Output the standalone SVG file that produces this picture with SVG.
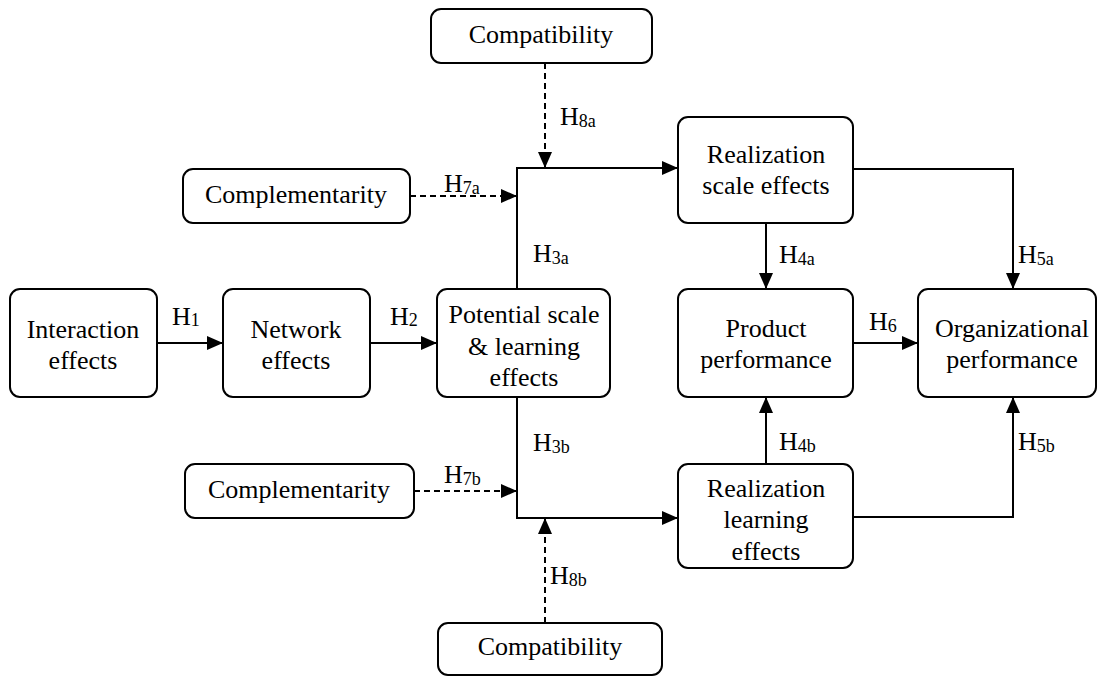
<svg xmlns="http://www.w3.org/2000/svg" width="1099" height="677" viewBox="0 0 1099 677">
<style>
.box{fill:#fff;stroke:#000;stroke-width:2}
.t{font-size:26px;fill:#000;text-anchor:middle}
.lb{font-size:26px;fill:#000}
.sb{font-size:18px}
.c{fill:none;stroke:#000;stroke-width:2}
.d{fill:none;stroke:#000;stroke-width:2;stroke-dasharray:6,4}
</style>
<defs>
<marker id="ah" markerUnits="userSpaceOnUse" markerWidth="16" markerHeight="14" refX="16" refY="7" orient="auto">
<path d="M0,0 L16,7 L0,14 z" fill="#000"/>
</marker>
</defs>
<rect width="1099" height="677" fill="#fff"/>
<g font-family="Liberation Serif, Tinos, DejaVu Serif, Noto Serif, serif">
<g id="connectors">
<path class="c" d="M157,343 H223" marker-end="url(#ah)"/>
<path class="c" d="M370,343 H437" marker-end="url(#ah)"/>
<path class="c" d="M517,289 V168 H678" marker-end="url(#ah)"/>
<path class="c" d="M517,397 V518 H678" marker-end="url(#ah)"/>
<path class="d" d="M410,196 H517" marker-end="url(#ah)"/>
<path class="d" d="M414,491 H517" marker-end="url(#ah)"/>
<path class="d" d="M545,63 V168" marker-end="url(#ah)"/>
<path class="d" d="M545,623 V518" marker-end="url(#ah)"/>
<path class="c" d="M766,223 V289" marker-end="url(#ah)"/>
<path class="c" d="M766,464 V397" marker-end="url(#ah)"/>
<path class="c" d="M853,169 H1013 V289" marker-end="url(#ah)"/>
<path class="c" d="M853,517 H1013 V397" marker-end="url(#ah)"/>
<path class="c" d="M853,343 H918" marker-end="url(#ah)"/>
<text class="lb" x="172" y="325">H<tspan class="sb" dy="1">1</tspan></text>
<text class="lb" x="390" y="325">H<tspan class="sb" dy="1">2</tspan></text>
<text class="lb" x="533" y="262">H<tspan class="sb" dy="2">3a</tspan></text>
<text class="lb" x="533" y="451">H<tspan class="sb" dy="2">3b</tspan></text>
<text class="lb" x="444" y="192">H<tspan class="sb" dy="2">7a</tspan></text>
<text class="lb" x="444" y="483">H<tspan class="sb" dy="2">7b</tspan></text>
<text class="lb" x="560" y="125">H<tspan class="sb" dy="2">8a</tspan></text>
<text class="lb" x="550" y="584">H<tspan class="sb" dy="2">8b</tspan></text>
<text class="lb" x="779" y="263">H<tspan class="sb" dy="2">4a</tspan></text>
<text class="lb" x="779" y="450">H<tspan class="sb" dy="2">4b</tspan></text>
<text class="lb" x="1018" y="263">H<tspan class="sb" dy="2">5a</tspan></text>
<text class="lb" x="1018" y="450">H<tspan class="sb" dy="2">5b</tspan></text>
<text class="lb" x="869" y="330">H<tspan class="sb" dy="2">6</tspan></text>
</g>
<g id="interaction">
<rect class="box" x="10" y="289" width="147" height="108" rx="10"/>
<text class="t" x="83" y="338">Interaction</text>
<text class="t" x="83" y="369">effects</text>
</g>
<g id="network">
<rect class="box" x="223" y="289" width="147" height="108" rx="10"/>
<text class="t" x="296" y="338">Network</text>
<text class="t" x="296" y="369">effects</text>
</g>
<g id="potential">
<rect class="box" x="437" y="289" width="173" height="108" rx="10"/>
<text class="t" x="524" y="323">Potential scale</text>
<text class="t" x="524" y="355">&amp; learning</text>
<text class="t" x="524" y="386">effects</text>
</g>
<g id="compat-top">
<rect class="box" x="431" y="9" width="221" height="54" rx="10"/>
<text class="t" x="541" y="43">Compatibility</text>
</g>
<g id="compl-top">
<rect class="box" x="183" y="169" width="227" height="54" rx="10"/>
<text class="t" x="296" y="203">Complementarity</text>
</g>
<g id="compl-bottom">
<rect class="box" x="185" y="464" width="229" height="54" rx="10"/>
<text class="t" x="299" y="498">Complementarity</text>
</g>
<g id="compat-bottom">
<rect class="box" x="438" y="623" width="224" height="52" rx="10"/>
<text class="t" x="550" y="655">Compatibility</text>
</g>
<g id="real-scale">
<rect class="box" x="678" y="117" width="175" height="106" rx="10"/>
<text class="t" x="766" y="163">Realization</text>
<text class="t" x="766" y="194">scale effects</text>
</g>
<g id="product">
<rect class="box" x="678" y="289" width="175" height="108" rx="10"/>
<text class="t" x="766" y="337">Product</text>
<text class="t" x="766" y="368">performance</text>
</g>
<g id="real-learning">
<rect class="box" x="678" y="464" width="175" height="104" rx="10"/>
<text class="t" x="766" y="497">Realization</text>
<text class="t" x="766" y="528">learning</text>
<text class="t" x="766" y="560">effects</text>
</g>
<g id="org">
<rect class="box" x="918" y="289" width="178" height="108" rx="10"/>
<text class="t" x="1012" y="337">Organizational</text>
<text class="t" x="1012" y="368">performance</text>
</g>
</g>
</svg>
